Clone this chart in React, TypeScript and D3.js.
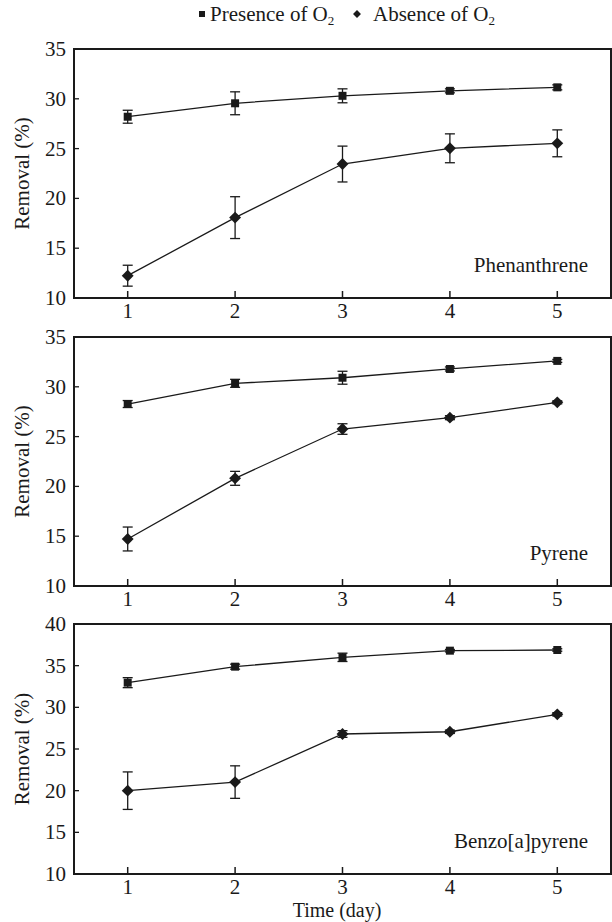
import { useRef, useEffect } from "react";
import * as d3 from "d3";

const W = 612;
const H = 922;
const INK = "#1a1a1a";
const FONT = "Liberation Serif, Tinos, Times New Roman, DejaVu Serif, serif";
const FS = 21;

const days = [1, 2, 3, 4, 5];

const panelNames = ["Phenanthrene", "Pyrene", "Benzo[a]pyrene"];
const yMax = [35, 35, 40];
const yTicks = [
  [10, 15, 20, 25, 30, 35],
  [10, 15, 20, 25, 30, 35],
  [10, 15, 20, 25, 30, 35, 40],
];

// presence of O2
const presence = [
  [28.2, 29.55, 30.3, 30.8, 31.15],
  [28.27, 30.35, 30.91, 31.79, 32.6],
  [32.96, 34.88, 36.0, 36.8, 36.88],
];
const presenceErr = [
  [0.65, 1.15, 0.7, 0.2, 0.25],
  [0.35, 0.4, 0.65, 0.2, 0.15],
  [0.6, 0.3, 0.5, 0.15, 0.15],
];

// absence of O2
const absence = [
  [12.24, 18.07, 23.45, 25.03, 25.53],
  [14.72, 20.81, 25.76, 26.9, 28.44],
  [20.0, 21.03, 26.8, 27.07, 29.16],
];
const absenceErr = [
  [1.05, 2.1, 1.8, 1.45, 1.35],
  [1.2, 0.7, 0.53, 0.2, 0.15],
  [2.25, 1.95, 0.4, 0.2, 0.2],
];

const M = { left: 74, right: 1 };
const panelTop = [49, 337, 624];
const panelBottom = [298, 586, 874];

export default function App() {
  const svgRef = useRef<SVGSVGElement>(null);

  useEffect(() => {
    if (!svgRef.current) return;
    const svg = d3.select(svgRef.current);
    svg.selectAll("*").remove();

    const x = d3.scaleLinear().domain([0.5, 5.5]).range([M.left, W - M.right]);

    // Legend
    const leg = svg.append("g").style("font-family", FONT).attr("font-size", FS).attr("fill", INK);
    leg.append("rect").attr("x", 199).attr("y", 11).attr("width", 6).attr("height", 6).attr("fill", INK);
    const t1 = leg.append("text").attr("x", 210).attr("y", 21);
    t1.append("tspan").text("Presence of O");
    t1.append("tspan").attr("font-size", 13).attr("dy", 4).text("2");
    leg.append("path")
      .attr("d", d3.symbol(d3.symbolDiamond2, 40)())
      .attr("transform", "translate(357,14)")
      .attr("fill", INK);
    const t2 = leg.append("text").attr("x", 373).attr("y", 21);
    t2.append("tspan").text("Absence of O");
    t2.append("tspan").attr("font-size", 13).attr("dy", 4).text("2");

    panelNames.forEach((name, p) => {
      const top = panelTop[p];
      const bottom = panelBottom[p];
      const y = d3.scaleLinear().domain([10, yMax[p]]).range([bottom, top]);
      const g = svg.append("g").style("font-family", FONT);

      // frame
      g.append("rect")
        .attr("x", M.left).attr("y", top)
        .attr("width", W - M.right - M.left).attr("height", bottom - top)
        .attr("fill", "none").attr("stroke", INK).attr("stroke-width", 2);

      // x ticks (inward) + labels
      g.selectAll(".xt").data(days).join("line")
        .attr("x1", d => x(d)).attr("x2", d => x(d))
        .attr("y1", bottom).attr("y2", bottom - 7)
        .attr("stroke", INK).attr("stroke-width", 1.5);
      g.selectAll(".xl").data(days).join("text")
        .attr("x", d => x(d)).attr("y", bottom + 20)
        .attr("text-anchor", "middle")
        .attr("font-size", FS).attr("fill", INK)
        .text(d => d);

      // y ticks (inward) + labels
      g.selectAll(".yt").data(yTicks[p]).join("line")
        .attr("x1", M.left).attr("x2", M.left + 5)
        .attr("y1", d => y(d)).attr("y2", d => y(d))
        .attr("stroke", INK).attr("stroke-width", 1.3);
      g.selectAll(".yl").data(yTicks[p]).join("text")
        .attr("x", 66).attr("y", d => y(d) + 7)
        .attr("text-anchor", "end")
        .attr("font-size", FS).attr("fill", INK)
        .text(d => d);

      // y label
      g.append("text")
        .attr("transform", `translate(29,${(top + bottom) / 2}) rotate(-90)`)
        .attr("text-anchor", "middle")
        .attr("font-size", FS).attr("fill", INK)
        .text("Removal (%)");

      // panel name
      g.append("text")
        .attr("x", 588).attr("y", bottom - 26)
        .attr("text-anchor", "end")
        .attr("font-size", FS).attr("fill", INK)
        .text(name);

      const series = [
        { vals: presence[p], errs: presenceErr[p], sym: d3.symbolSquare, size: 64 },
        { vals: absence[p], errs: absenceErr[p], sym: d3.symbolDiamond2, size: 90 },
      ];

      series.forEach(s => {
        const pts = days.map((d, i) => ({ d, v: s.vals[i], e: s.errs[i] }));
        const line = d3.line<typeof pts[0]>().x(q => x(q.d)).y(q => y(q.v));
        g.append("path").datum(pts).attr("d", line)
          .attr("fill", "none").attr("stroke", INK).attr("stroke-width", 1.3);

        // error bars
        const eb = g.append("g").attr("stroke", INK).attr("stroke-width", 1.3);
        pts.forEach(q => {
          const cx = x(q.d);
          eb.append("line").attr("x1", cx).attr("x2", cx).attr("y1", y(q.v + q.e)).attr("y2", y(q.v - q.e));
          eb.append("line").attr("x1", cx - 5).attr("x2", cx + 5).attr("y1", y(q.v + q.e)).attr("y2", y(q.v + q.e));
          eb.append("line").attr("x1", cx - 5).attr("x2", cx + 5).attr("y1", y(q.v - q.e)).attr("y2", y(q.v - q.e));
        });

        g.selectAll(null).data(pts).join("path")
          .attr("d", d3.symbol(s.sym, s.size)())
          .attr("transform", q => `translate(${x(q.d)},${y(q.v)})`)
          .attr("fill", INK);
      });
    });

    // x axis title
    svg.append("text")
      .style("font-family", FONT)
      .attr("x", 337).attr("y", 917)
      .attr("text-anchor", "middle")
      .attr("font-size", 20).attr("fill", INK)
      .text("Time (day)");
  }, []);

  return (
    <svg
      ref={svgRef}
      width={W}
      height={H}
      style={{ position: "absolute", left: 0, top: 0, background: "#fff" }}
    />
  );
}
